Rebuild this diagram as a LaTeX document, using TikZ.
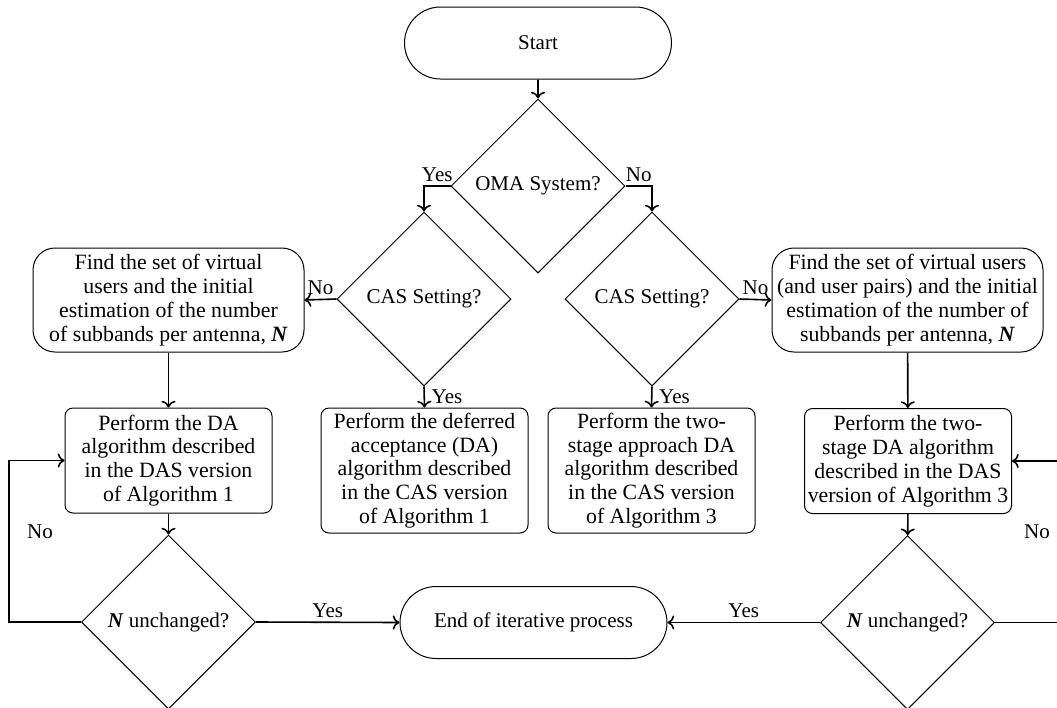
\documentclass[tikz,border=0pt]{standalone}
\usepackage{fontspec}
\setmainfont{Liberation Serif}
\usetikzlibrary{shapes.geometric,shapes.misc,arrows.meta}
\newcommand{\Nb}{\textbf{\textit{N}}}
\newcommand{\basefont}{\fontsize{10.5}{12.6}\selectfont}
\newcommand{\boxfont}{\fontsize{10.9}{11.9}\selectfont}
\begin{document}
\begin{tikzpicture}[x=0.5pt,y=-0.5pt, font=\basefont,
  term/.style={draw, rounded rectangle, line width=0.5pt, minimum width=135.5pt, minimum height=36pt, inner sep=1pt, align=center},
  dec/.style={draw, diamond, aspect=1, minimum size=87pt, inner sep=0pt, line width=0.5pt, align=center},
  findbox/.style={draw, rounded corners=11pt, line width=0.5pt, minimum width=135.5pt, minimum height=52pt, inner sep=1pt, align=center, font=\boxfont},
  procbox/.style={draw, rounded corners=4pt, line width=0.5pt, minimum width=103.5pt, inner sep=1pt, align=center, font=\boxfont},
  conn/.style={->, thick},
  lbl/.style={inner sep=2pt}]
\useasboundingbox (0,0) rectangle (1057,708);

\node[term] (start) at (538,43) {Start};
\node[dec] (oma) at (538,186) {OMA System?};
\node[dec] (cas1) at (424,299) {CAS Setting?};
\node[dec] (cas2) at (652,299) {CAS Setting?};
\node[findbox] (find1) at (168.5,300) {Find the set of virtual\\users and the initial\\estimation of the number\\of subbands per antenna, \Nb};
\node[findbox] (find2) at (907.5,300) {Find the set of virtual users\\(and user pairs) and the initial\\estimation of the number of\\subbands per antenna, \Nb};
\node[procbox, minimum height=52.5pt] (da1) at (168.5,460.5) {Perform the DA\\algorithm described\\in the DAS version\\of Algorithm 1};
\node[procbox, minimum height=62.5pt] (cbox1) at (424.5,470.5) {Perform the deferred\\acceptance (DA)\\algorithm described\\in the CAS version\\of Algorithm 1};
\node[procbox, minimum height=62.5pt] (cbox2) at (651.5,470.5) {Perform the two-\\stage approach DA\\algorithm described\\in the CAS version\\of Algorithm 3};
\node[procbox, minimum height=52.5pt] (da2) at (908,461) {Perform the two-\\stage DA algorithm\\described in the DAS\\version of Algorithm 3};
\node[dec] (n1) at (168.5,622) {\Nb{} unchanged?};
\node[term] (endn) at (533.5,622.5) {End of iterative process};
\node[dec] (n2) at (907.5,622.5) {\Nb{} unchanged?};

\coordinate (lxL) at (9,540);
\coordinate (lxR) at (1080,540);

\draw[conn] (start) -- (oma);
\draw[conn] (oma.west) -| node[lbl, pos=0.25, above] {Yes} (cas1.north);
\draw[conn] (oma.east) -| node[lbl, pos=0.25, above] {No} (cas2.north);
\draw[conn] (cas1.west) -- node[lbl, above] {No} (find1.east);
\draw[conn] (cas2.east) -- node[lbl, above] {No} (find2.west);
\draw[conn] (cas1.south) -- node[right] {Yes} (cbox1.north);
\draw[conn] (cas2.south) -- node[right] {Yes} (cbox2.north);
\draw[conn] (find1) -- (da1);
\draw[conn] (find2) -- (da2);
\draw[conn] (da1) -- (n1);
\draw[conn] (da2) -- (n2);
\draw[conn] (n1.east) -- node[lbl, above] {Yes} (endn.west);
\draw[conn] (n2.west) -- node[lbl, above] {Yes} (endn.east);
\draw[conn] (n1.west) -- (n1.west -| lxL) |- (da1.west);
\draw[conn] (n2.east) -- (n2.east -| lxR) |- (da2.east);
\node (noL) at (40,532) {No};
\node (noR) at (1037,532) {No};
\end{tikzpicture}
\end{document}
